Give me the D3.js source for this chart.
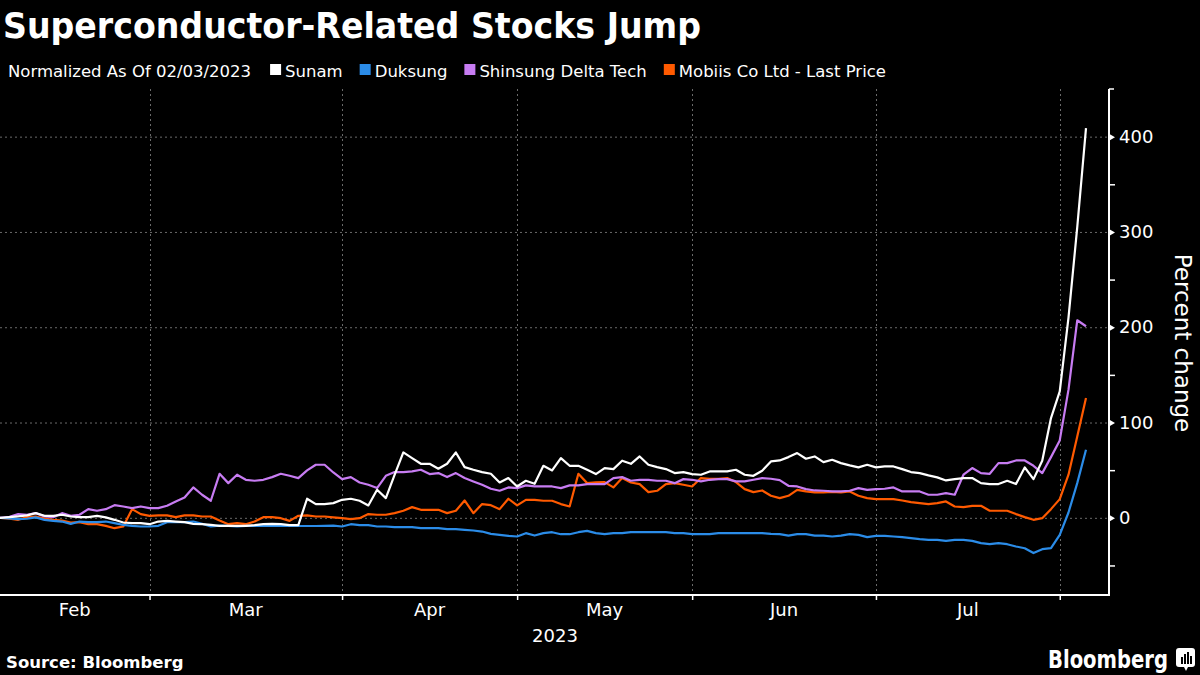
<!DOCTYPE html>
<html>
<head>
<meta charset="utf-8">
<title>Superconductor-Related Stocks Jump</title>
<script src="https://d3js.org/d3.v7.min.js"></script>
<style>
  body { margin: 0; background: #000; }
  svg { display: block; }
  text { font-family: "DejaVu Sans", sans-serif; fill: #fff; }
</style>
</head>
<body>
<div id="chart"></div>
<script>
// percent change, one value per KRX trading day starting 2023-02-03 (index 0)
const sunam = [
  0, 0, 0.7, 1.5, 2.5, 4.9, 2.1, 2.1, 3.2, 1.4,
  0.7, 0.7, 2.1, 0.4, -2.1, -4.9, -5.6, -5.6, -6.7, -3.9,
  -3.2, -3.9, -4.6, -6.3, -6.7, -7.4, -8.4, -8.4, -8.4, -8.4,
  -7.7, -6.7, -6.3, -6.7, -7.7, -7.7, 20, 14.4, 14.4, 15.4,
  18.9, 20, 17.9, 13, 29.4, 20.7, 45, 68.6, 62.7, 56.7,
  56.7, 51.5, 56.7, 68.6, 53.2, 50.4, 48, 46.2, 37.1, 41.7,
  32.9, 38.9, 35.7, 54.6, 49.7, 62.7, 54.6, 54.6, 50.4, 45.9,
  52.2, 51.1, 59.9, 56.7, 64.4, 55.7, 53.2, 51.1, 46.9, 48,
  45.9, 45.2, 48.7, 48.7, 48.7, 50.4, 45.2, 44.1, 49.4, 59.2,
  60.2, 63.7, 67.9, 62, 64.4, 58.5, 60.9, 57.4, 55, 52.9,
  55.7, 52.9, 53.9, 53.9, 51.1, 48, 46.9, 44.5, 42.4, 39.2,
  40.6, 41.7, 41.7, 36.4, 35.4, 35.4, 38.9, 35.4, 52.9, 40.6,
  59.9, 104.7, 132.7, 210, 305, 409
];
const duksung = [
  0, 0, -0.7, -1.4, -1, 0.4, -2.1, -3.2, -3.9, -6.3,
  -3.9, -4.6, -4.6, -3.9, -5.6, -7.4, -8.4, -9.1, -9.1, -8.4,
  -4.6, -4.6, -4.6, -3.9, -6.3, -9.1, -8.1, -8.4, -9.1, -8.4,
  -8.6, -8.6, -8.6, -8.6, -8.6, -8.6, -8.6, -8.6, -8.4, -8.1,
  -9.1, -6.7, -7.7, -7.7, -9.1, -9.1, -9.8, -9.8, -9.8, -10.9,
  -10.9, -10.9, -11.9, -11.9, -12.6, -13.3, -14.4, -16.8, -17.9, -18.9,
  -19.6, -16.1, -18.6, -16.1, -15.1, -17.2, -17.2, -15.1, -13.7, -16.1,
  -17.2, -16.1, -16.1, -15.1, -15.1, -15.1, -15.1, -15.1, -16.1, -16.1,
  -17.2, -17.2, -17.2, -16.1, -16.1, -16.1, -16.1, -16.1, -16.1, -16.8,
  -17.2, -18.6, -17.2, -17.2, -18.6, -18.6, -19.6, -18.6, -17.2, -17.9,
  -20.3, -18.9, -18.9, -19.6, -20.3, -21.4, -22.4, -23.1, -23.1, -24.2,
  -23.1, -23.1, -24.2, -26.6, -27.7, -26.6, -27.7, -30.1, -31.9, -37,
  -32.9, -31.9, -17.9, 5.6, 36.4, 71.4
];
const shinsung = [
  0, 0, 1, 3.9, 3.2, 4.9, 1.4, 0.7, 4.9, 2.1,
  3.2, 9.1, 7.4, 9.1, 13.3, 11.9, 10.2, 11.9, 10.2, 10.2,
  12.6, 17.2, 21.4, 31.9, 24.2, 17.9, 46.2, 36.4, 45.2, 39.9,
  38.9, 39.9, 42.7, 46.2, 44.1, 41.7, 49.7, 55.7, 55.7, 47.6,
  40.6, 42.7, 37.1, 34.7, 31.2, 44.1, 48, 48, 48.7, 50.4,
  45.9, 46.9, 42.7, 46.9, 41.7, 38.2, 34.7, 30.5, 28.4, 31.9,
  31.2, 34, 32.9, 32.9, 32.9, 31.2, 34, 34, 35.4, 35.4,
  35.4, 41.7, 42.7, 38.9, 39.9, 39.9, 38.9, 38.9, 36.4, 40.6,
  39.9, 38.2, 39.9, 40.6, 40.6, 38.2, 38.2, 39.9, 41.7, 41,
  39.6, 33.6, 32.9, 30.1, 28.7, 28.4, 27.7, 27.7, 28.4, 31.2,
  29.4, 30.1, 30.5, 31.9, 27.7, 27.7, 27.7, 24.2, 24.2, 25.9,
  24.2, 45.2, 52.2, 46.9, 46.2, 57.4, 57.4, 60.2, 60.2, 54.6,
  46.9, 63.7, 81.2, 134.5, 207.3, 201
];
const mobiis = [
  0, 0, -1, -2.1, 0.7, 1.4, -0.7, -2.1, -2.8, -4.9,
  -4.6, -6.7, -6.7, -8.4, -10.9, -9.1, 9.1, 3.9, 2.1, 2.5,
  2.5, 0.7, 2.5, 2.5, 1.4, 1.4, -2.8, -6.7, -5.6, -6.7,
  -3.9, 0.7, 0.7, -0.4, -3.2, 2.1, 2.5, 1.4, 1.4, 0.4,
  -0.4, -1.4, -0.4, 3.9, 3.2, 3.2, 4.9, 7.4, 11.2, 8.4,
  8.4, 8.4, 4.9, 7.4, 18.2, 4.9, 14.4, 13.3, 9.1, 20,
  13, 18.9, 18.9, 17.9, 17.9, 14.4, 11.9, 46.2, 36.4, 37.1,
  37.5, 31.9, 41.7, 37.1, 35.4, 27, 28.4, 35.4, 36.4, 34.7,
  32.9, 41.7, 41, 41, 41.7, 37.5, 30.1, 27, 28.7, 23.1,
  20.7, 23.1, 29.4, 27.7, 26.6, 26.6, 27.3, 26.6, 27.7, 23.1,
  20.7, 19.6, 19.6, 19.6, 18.2, 16.5, 15.4, 14.4, 15.4, 17.2,
  11.9, 11.2, 12.6, 12.6, 7.4, 7.4, 7.4, 3.9, 0.7, -2.1,
  -0.4, 9.1, 19.6, 45.2, 85.4, 125.7
];

const seriesNames = ["Sunam", "Duksung", "Shinsung Delta Tech", "Mobiis Co Ltd - Last Price"];
const seriesValues = [sunam, duksung, shinsung, mobiis];

// month labels and the trading-day index where each following month starts
const monthLabels = ["Feb", "Mar", "Apr", "May", "Jun", "Jul"];
const monthStartIdx = [18, 40, 60, 80, 101, 122];   // Mar 2, Apr 3, May 2, Jun 1, Jul 3, Aug 1
const yearLabel = "2023";
const yMajor = [0, 100, 200, 300, 400];
const yMinor = [-50, 50, 150, 250, 350];

const colors = ["#ffffff", "#2b8ce8", "#c77cf2", "#ff5a00"];

const W = 1200, H = 675;
const plotL = 0, plotR = 1109, plotT = 89, plotB = 595;

const svg = d3.select("#chart").append("svg")
    .attr("width", W)
    .attr("height", H)
    .style("background", "#000");

const x = d3.scaleLinear().domain([0, sunam.length - 1]).range([-8, 1086]);
const y = d3.scaleLinear().domain([-81, 450]).range([plotB, plotT]);

// title + legend
svg.append("text")
    .attr("x", 3).attr("y", 38)
    .attr("textLength", 698).attr("lengthAdjust", "spacingAndGlyphs")
    .style("font-size", "35px").style("font-weight", "bold")
    .text("Superconductor-Related Stocks Jump");

let lx = 8;
const sub = svg.append("text")
    .attr("x", lx).attr("y", 77)
    .style("font-size", "16.5px")
    .text("Normalized As Of 02/03/2023");
lx += sub.node().getComputedTextLength() + 19;
seriesNames.forEach(function(name, i) {
    svg.append("rect")
        .attr("x", lx).attr("y", 64)
        .attr("width", 11).attr("height", 11)
        .style("fill", colors[i]);
    const t = svg.append("text")
        .attr("x", lx + 15).attr("y", 77)
        .style("font-size", "16.5px")
        .text(name);
    lx += 15 + t.node().getComputedTextLength() + 17;
});

// grid
const grid = svg.append("g")
    .style("stroke", "#6a6a6a")
    .style("stroke-width", 1)
    .style("stroke-dasharray", "2,3");
grid.selectAll("line.h")
    .data(yMajor)
    .enter().append("line")
    .attr("x1", plotL).attr("x2", plotR)
    .attr("y1", d => y(d) + 0.5).attr("y2", d => y(d) + 0.5);
grid.selectAll("line.v")
    .data(monthStartIdx)
    .enter().append("line")
    .attr("x1", d => Math.round(x(d)) + 0.5).attr("x2", d => Math.round(x(d)) + 0.5)
    .attr("y1", plotT).attr("y2", plotB);

// lines
svg.append("clipPath").attr("id", "plotclip")
    .append("rect")
    .attr("x", plotL).attr("y", plotT)
    .attr("width", plotR - plotL).attr("height", plotB - plotT);

const line = d3.line()
    .x((d, i) => x(i))
    .y(d => y(d));

const lines = svg.append("g").attr("clip-path", "url(#plotclip)");
for (let i = seriesValues.length - 1; i >= 0; --i) {
    lines.append("path")
        .datum(seriesValues[i])
        .attr("d", line)
        .style("fill", "none")
        .style("stroke", colors[i])
        .style("stroke-width", 2.2)
        .style("stroke-linejoin", "round");
}

// bottom axis
const xAxis = d3.axisBottom(x)
    .tickValues(monthStartIdx)
    .tickSize(5)
    .tickFormat("");
const gx = svg.append("g")
    .attr("transform", "translate(0," + plotB + ")")
    .call(xAxis);
gx.select(".domain").remove();
gx.selectAll(".tick line").style("stroke", "#fff").style("stroke-width", 1.5);
gx.append("line")
    .attr("x1", plotL).attr("x2", plotR)
    .attr("y1", 0).attr("y2", 0)
    .style("stroke", "#fff").style("stroke-width", 2);

const bounds = [plotL].concat(monthStartIdx.map(d => x(d)));
svg.selectAll("text.month")
    .data(monthLabels)
    .enter().append("text")
    .attr("class", "month")
    .attr("x", (d, i) => (bounds[i] + bounds[i + 1]) / 2)
    .attr("y", 616)
    .attr("text-anchor", "middle")
    .style("font-size", "18px")
    .text(d => d);
svg.append("text")
    .attr("x", 555).attr("y", 642)
    .attr("text-anchor", "middle")
    .style("font-size", "18px")
    .text(yearLabel);

// right axis
const gyMinor = svg.append("g")
    .attr("transform", "translate(" + plotR + ",0)")
    .call(d3.axisRight(y).tickValues(yMinor).tickSize(6).tickFormat(""));
gyMinor.select(".domain").remove();
gyMinor.selectAll(".tick line").style("stroke", "#fff").style("stroke-width", 1.5);

const gy = svg.append("g")
    .attr("transform", "translate(" + plotR + ",0)")
    .call(d3.axisRight(y).tickValues(yMajor).tickSize(0).tickPadding(10));
gy.select(".domain").remove();
gy.selectAll(".tick text")
    .style("font-size", "18px")
    .style("font-family", "'DejaVu Sans', sans-serif")
    .style("fill", "#fff");
gy.selectAll(".tick").append("path")
    .attr("d", "M0,-3.5L6,0L0,3.5Z")
    .style("fill", "#fff");

svg.append("line")
    .attr("x1", plotR).attr("x2", plotR)
    .attr("y1", plotT).attr("y2", plotB + 1)
    .style("stroke", "#fff").style("stroke-width", 2);
svg.append("line")
    .attr("x1", plotR).attr("x2", plotR + 5)
    .attr("y1", plotT).attr("y2", plotT)
    .style("stroke", "#fff").style("stroke-width", 1.5);

svg.append("text")
    .attr("transform", "translate(1175," + ((plotT + plotB) / 2 + 1) + ") rotate(90)")
    .attr("text-anchor", "middle")
    .style("font-size", "23px")
    .text("Percent change");

// footer
svg.append("text")
    .attr("x", 6).attr("y", 668)
    .style("font-size", "16.5px").style("font-weight", "bold")
    .text("Source: Bloomberg");

svg.append("text")
    .attr("x", 1048).attr("y", 668)
    .attr("textLength", 120).attr("lengthAdjust", "spacingAndGlyphs")
    .style("font-size", "25px").style("font-weight", "bold")
    .text("Bloomberg");

// small logo mark
const logo = svg.append("g").attr("transform", "translate(1176,648)");
logo.append("rect")
    .attr("width", 19).attr("height", 19).attr("rx", 3)
    .style("fill", "#fff");
logo.append("path")
    .attr("d", "M8,19L10,23L12,19Z")
    .style("fill", "#fff");
[[5, 9], [8, 6], [11, 4], [14, 8]].forEach(function(b) {
    logo.append("rect")
        .attr("x", b[0]).attr("y", 16 - (16 - b[1]))
        .attr("width", 2).attr("height", 16 - b[1])
        .style("fill", "#000");
});
</script>
</body>
</html>
